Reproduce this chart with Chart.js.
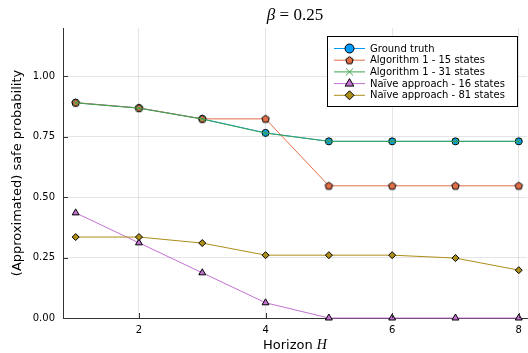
<!DOCTYPE html>
<html>
<head>
<meta charset="utf-8">
<script src="https://cdn.jsdelivr.net/npm/chart.js@4/dist/chart.umd.min.js"></script>
<style>
  html, body { margin: 0; padding: 0; background: #fff; }
  #wrap { width: 528px; height: 353px; }
</style>
</head>
<body>
<div id="wrap"><canvas id="grafico" width="528" height="353"></canvas></div>
<script>
// Dados
const horizonte = [1, 2, 3, 4, 5, 6, 7, 8];
const groundTruth = [0.891, 0.869, 0.824, 0.766, 0.731, 0.731, 0.731, 0.731];
const alg15 = [0.891, 0.869, 0.824, 0.824, 0.547, 0.547, 0.547, 0.547];
const alg31 = [0.890, 0.868, 0.823, 0.765, 0.731, 0.731, 0.731, 0.731];
const naive16 = [0.435, 0.311, 0.187, 0.063, 0, 0, 0, 0];
const naive81 = [0.335, 0.335, 0.310, 0.260, 0.260, 0.260, 0.248, 0.198];
const xTicks = [2, 4, 6, 8];
const yTicks = [0, 0.25, 0.5, 0.75, 1.0];

const FONTE = "'DejaVu Sans', sans-serif";

// marcador pentágono (não existe no Chart.js)
function pentagono(cor, r) {
  const c = document.createElement('canvas');
  const s = Math.ceil(r * 2 + 3);
  c.width = s; c.height = s;
  const g = c.getContext('2d');
  g.beginPath();
  for (let i = 0; i < 5; i++) {
    const a = -Math.PI / 2 + i * 2 * Math.PI / 5;
    const px = s / 2 + r * Math.cos(a), py = s / 2 + 0.3 + r * Math.sin(a);
    if (i == 0) g.moveTo(px, py); else g.lineTo(px, py);
  }
  g.closePath();
  g.fillStyle = cor; g.fill();
  g.lineWidth = 1; g.strokeStyle = '#000'; g.stroke();
  return c;
}

function serie(label, valores, cor, estilo, ordem, extra) {
  return Object.assign({
    label: label,
    data: horizonte.map((h, i) => ({ x: h, y: valores[i] })),
    borderColor: cor,
    backgroundColor: cor,
    borderWidth: 1,
    pointStyle: estilo,
    pointRadius: 3.5,
    pointHoverRadius: 3.5,
    pointBorderColor: '#000',
    pointBorderWidth: 1,
    pointBackgroundColor: cor,
    tension: 0,
    clip: false,
    order: ordem
  }, extra || {});
}

const datasets = [
  serie('Ground truth', groundTruth, '#009AFA', 'circle', 5),
  serie('Algorithm 1 - 15 states', alg15, '#E36F47', pentagono('#E36F47', 3.9), 4),
  serie('Algorithm 1 - 31 states', alg31, '#3EA44E', 'crossRot', 3, { pointBorderColor: '#3EA44E', pointRadius: 4 }),
  serie('Na\u00efve approach - 16 states', naive16, '#C371D2', 'triangle', 2, { pointRadius: 4 }),
  serie('Na\u00efve approach - 81 states', naive81, '#AC8E18', 'rectRot', 1)
];

// títulos, ticks internos e legenda desenhados à mão
const extras = {
  id: 'extras',
  afterDraw(chart) {
    const ctx = chart.ctx;
    const area = chart.chartArea;
    const sx = chart.scales.x, sy = chart.scales.y;
    ctx.save();

    // ticks para dentro
    ctx.strokeStyle = '#333'; ctx.lineWidth = 1;
    ctx.beginPath();
    yTicks.forEach(v => {
      const p = Math.round(sy.getPixelForValue(v)) + 0.5;
      ctx.moveTo(area.left, p); ctx.lineTo(area.left + 5, p);
    });
    xTicks.forEach(v => {
      const p = Math.round(sx.getPixelForValue(v)) + 0.5;
      ctx.moveTo(p, area.bottom); ctx.lineTo(p, area.bottom - 5);
    });
    ctx.stroke();

    // título β = 0.25
    ctx.fillStyle = '#000';
    ctx.textBaseline = 'alphabetic';
    const cx = (area.left + area.right) / 2;
    ctx.font = "italic 17px 'Liberation Serif', serif";
    const wb = ctx.measureText('\u03b2').width;
    ctx.font = "17px 'Liberation Serif', serif";
    const wr = ctx.measureText(' = 0.25').width;
    let tx = cx - (wb + wr) / 2;
    ctx.font = "italic 17px 'Liberation Serif', serif";
    ctx.textAlign = 'left';
    ctx.fillText('\u03b2', tx, 20);
    ctx.font = "17px 'Liberation Serif', serif";
    ctx.fillText(' = 0.25', tx + wb, 20);

    // título eixo x
    ctx.font = '13px ' + FONTE;
    const w1 = ctx.measureText('Horizon ').width;
    ctx.font = "italic 14px 'Liberation Serif', serif";
    const w2 = ctx.measureText('H').width;
    tx = cx - (w1 + w2) / 2;
    ctx.font = '13px ' + FONTE;
    ctx.fillText('Horizon ', tx, 349);
    ctx.font = "italic 14px 'Liberation Serif', serif";
    ctx.fillText('H', tx + w1, 349);

    // título eixo y
    ctx.translate(18, (area.top + area.bottom) / 2);
    ctx.rotate(-Math.PI / 2);
    ctx.font = '13px ' + FONTE;
    ctx.textAlign = 'center';
    ctx.textBaseline = 'middle';
    ctx.fillText('(Approximated) safe probability', 0, 0);
    ctx.restore();

    // legenda
    ctx.save();
    const lx = 327.5, ly = 36.5, lw = 190, lh = 70;
    ctx.fillStyle = '#fff';
    ctx.fillRect(lx, ly, lw, lh);
    ctx.strokeStyle = '#000'; ctx.lineWidth = 1;
    ctx.strokeRect(lx, ly, lw, lh);
    ctx.font = '10px ' + FONTE;
    ctx.textAlign = 'left';
    ctx.textBaseline = 'middle';
    datasets.forEach((d, i) => {
      const y = 48.5 + i * 11.7;
      ctx.strokeStyle = d.borderColor; ctx.lineWidth = 1;
      ctx.beginPath(); ctx.moveTo(334, y); ctx.lineTo(365, y); ctx.stroke();
      ctx.fillStyle = d.pointBackgroundColor;
      ctx.strokeStyle = d.pointBorderColor;
      Chart.helpers.drawPoint(ctx, { pointStyle: d.pointStyle, radius: d.pointRadius + 1, rotation: 0, borderWidth: 1 }, 349.5, y);
      ctx.fillStyle = '#000';
      ctx.fillText(d.label, 370, y + 0.5);
    });
    ctx.restore();
  }
};

new Chart(document.getElementById('grafico'), {
  type: 'line',
  data: { datasets: datasets },
  options: {
    responsive: false,
    animation: false,
    events: [],
    layout: { autoPadding: false, padding: { top: 28, right: 1, left: 0, bottom: 0 } },
    scales: {
      x: {
        type: 'linear',
        min: 0.8,
        max: 8.13,
        afterBuildTicks: s => { s.ticks = xTicks.map(v => ({ value: v })); },
        afterFit: s => { s.height = 35; s.paddingLeft = 0; s.paddingRight = 0; },
        grid: { color: 'rgba(0,0,0,0.1)', drawTicks: false },
        border: { display: true, color: '#333', width: 1 },
        ticks: { color: '#000', font: { family: FONTE, size: 10 }, padding: 6, maxRotation: 0, callback: v => String(v) }
      },
      y: {
        type: 'linear',
        min: 0,
        max: 1.2,
        afterBuildTicks: s => { s.ticks = yTicks.map(v => ({ value: v })); },
        afterFit: s => { s.width = 63; s.paddingTop = 0; s.paddingBottom = 0; },
        grid: { color: 'rgba(0,0,0,0.1)', drawTicks: false },
        border: { display: true, color: '#333', width: 1 },
        ticks: { color: '#000', font: { family: FONTE, size: 10 }, padding: 8, callback: v => v.toFixed(2) }
      }
    },
    plugins: {
      legend: { display: false },
      title: { display: false },
      tooltip: { enabled: false }
    }
  },
  plugins: [extras]
});
</script>
</body>
</html>
